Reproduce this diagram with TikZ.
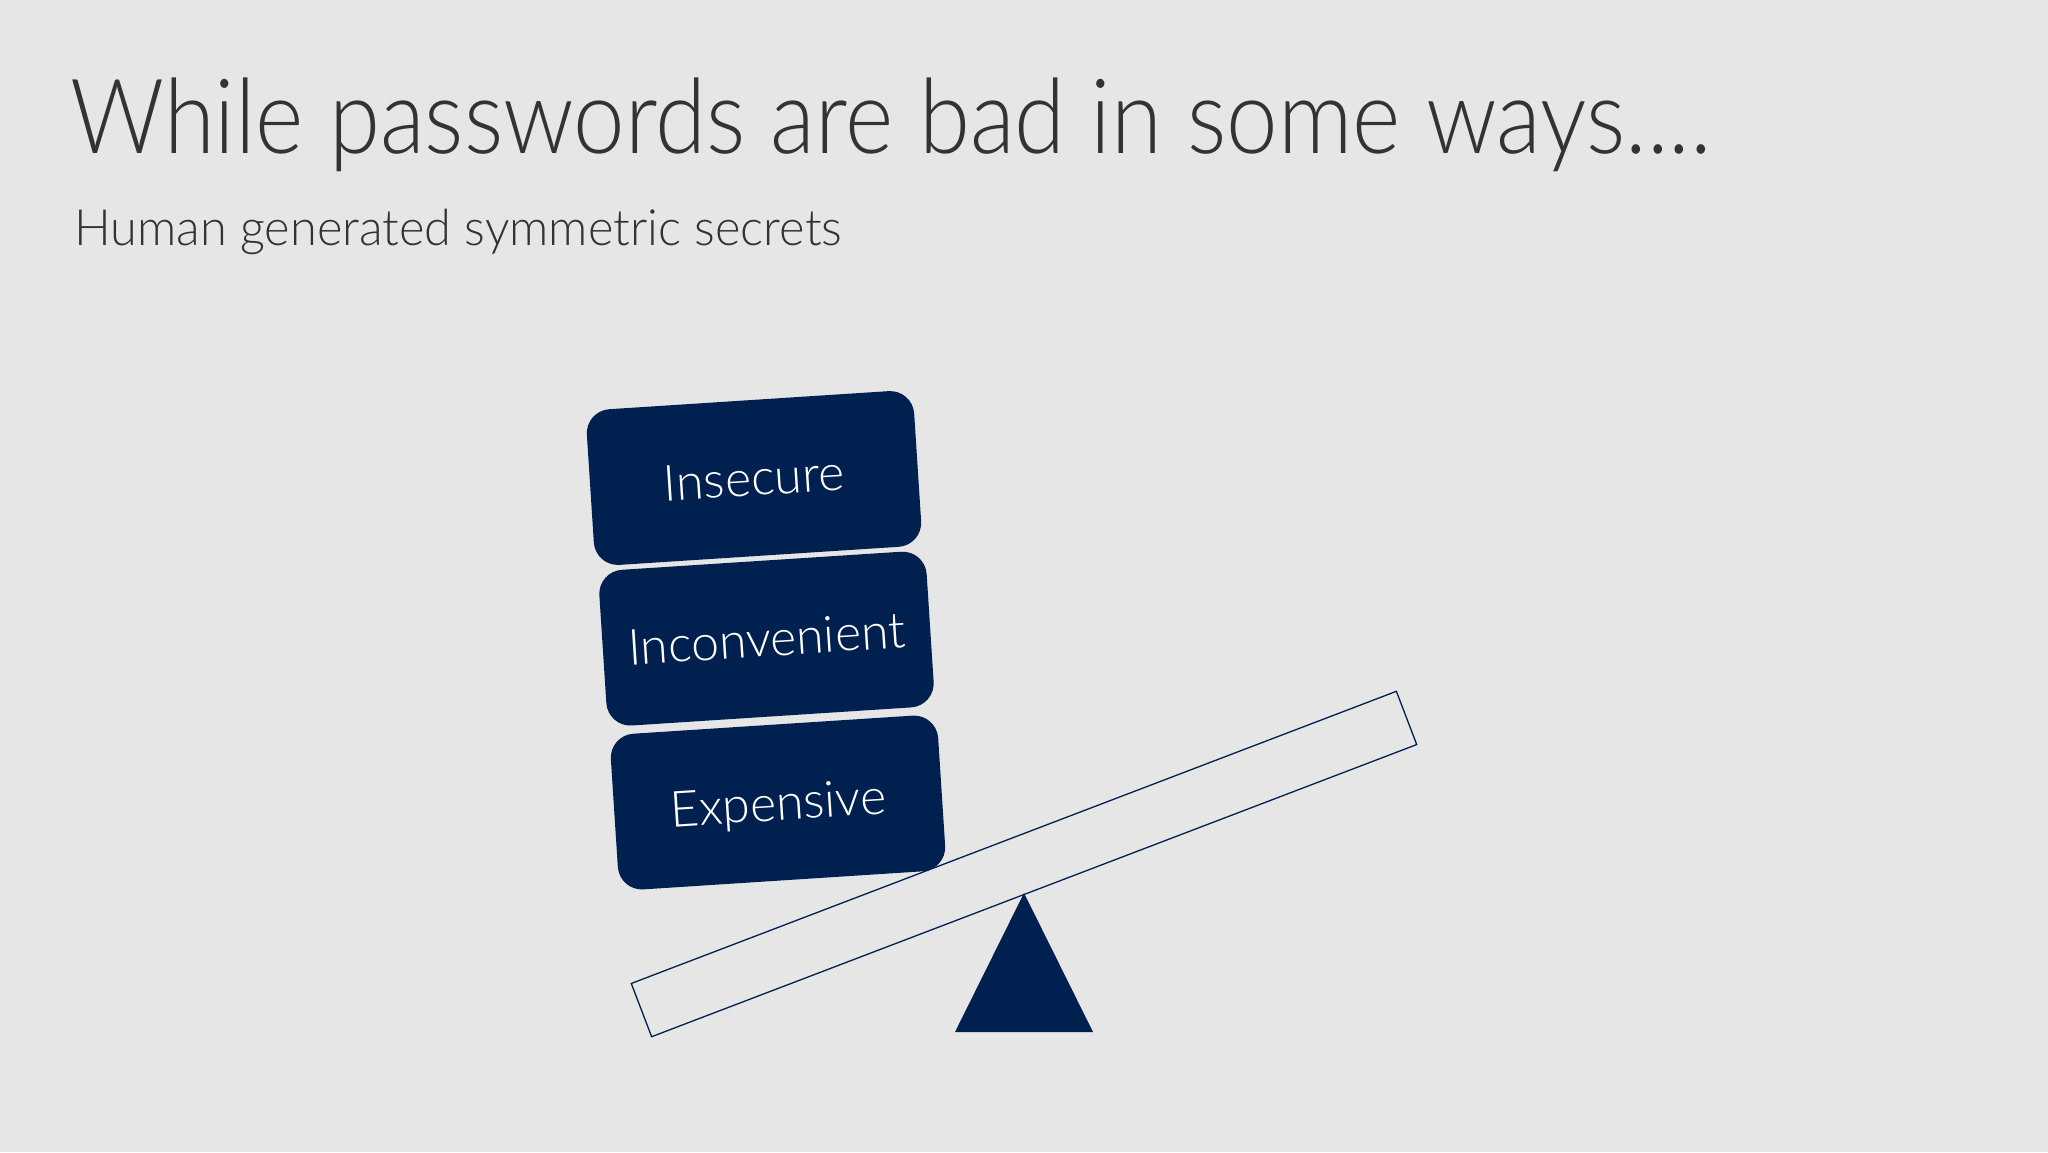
\documentclass[tikz,border=0pt]{standalone}
\usepackage{fontspec}
\setmainfont{Lato}[UprightFont=* Light]
\newfontfamily\titlefont{Lato}[UprightFont=* Light,FakeStretch=0.889]
\newfontfamily\subtitlefont{Lato}[UprightFont=* Light,FakeStretch=0.975]
\definecolor{slidebg}{HTML}{E6E6E6}
\definecolor{navy}{HTML}{002050}
\definecolor{inktext}{HTML}{333333}
\tikzset{
    block/.style={draw=none,fill=navy,text=white,rounded corners=24pt,rotate=3.7,
        minimum width=328pt,minimum height=156pt,inner sep=0pt,text depth=0pt,
        font=\fontsize{50}{60}\selectfont},
    plank/.style={draw=navy,line width=1.3pt,rotate=20.9,minimum width=819pt,minimum height=57pt,inner sep=0pt},
}
\begin{document}
\begin{tikzpicture}[x=1pt,y=-1pt]
    \fill[slidebg] (0,0) rectangle (2048,1152);
    \useasboundingbox (0,0) rectangle (2048,1152);
    % Headings %
    \node[anchor=base west,inner sep=0pt,text=inktext,font=\titlefont\fontsize{104}{120}\selectfont] (title) at (70,153) {While passwords are bad in some ways....};
    \node[anchor=base west,inner sep=0pt,text=inktext,font=\subtitlefont\fontsize{50}{60}\selectfont] (subtitle) at (74,245) {Human generated symmetric secrets};

    % Seesaw %
    \node[plank] (beam) at (1024,864) {};
    \coordinate (apex) at (1024,893);
    \coordinate (baseleft) at (955,1032);
    \coordinate (baseright) at (1093,1032);
    \fill[navy] (apex) -- (baseright) -- (baseleft) -- cycle;

    % Stack %
    \node[block] (expensive) at (778,802.5) {Expensive};
    \node[block] (inconvenient) at (766.5,638.6) {Inconvenient};
    \node[block] (insecure) at (754,478) {Insecure};
\end{tikzpicture}
\end{document}
